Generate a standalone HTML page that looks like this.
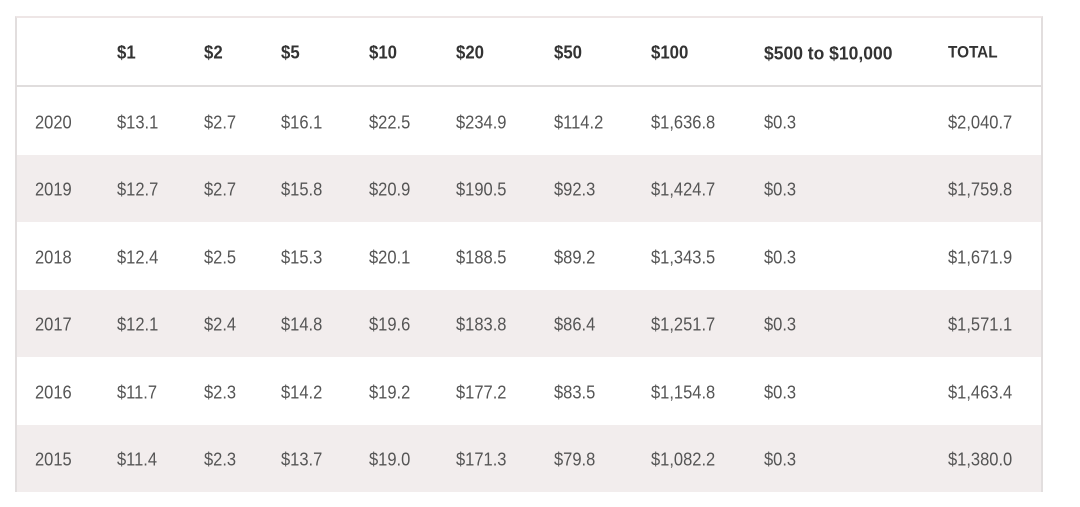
<!DOCTYPE html>
<html>
<head>
<meta charset="utf-8">
<style>
  html, body { margin:0; padding:0; background:#fff; }
  body { width:1080px; height:507px; position:relative; overflow:hidden; font-family:"Liberation Sans", "DejaVu Sans", sans-serif; }
  .box { position:absolute; left:15px; top:16px; width:1028px; height:476px; border-left:2px solid #e2dede; border-right:2px solid #e2dede; border-top:2px solid #eee6e6; box-sizing:border-box; }
  .hline { position:absolute; left:16px; width:1025px; top:85px; height:2px; background:#e0dddd; }
  .band { position:absolute; left:17px; width:1024px; background:#f2eded; }
  .t { position:absolute; font-size:16.5px; color:#555; line-height:20px; white-space:nowrap; transform:scaleY(1.1); transform-origin:0 50%; }
  .h { position:absolute; font-size:16.8px; font-weight:bold; color:#333; line-height:20px; white-space:nowrap; transform:scaleY(1.08); transform-origin:0 50%; }
</style>
</head>
<body>
<div class="band" style="top:155px;height:67px;"></div>
<div class="band" style="top:290px;height:67px;"></div>
<div class="band" style="top:425px;height:67px;"></div>
<div class="box"></div>
<div class="hline"></div>

<!-- header -->
<div class="h" style="left:117px;top:43px;">$1</div>
<div class="h" style="left:204px;top:43px;">$2</div>
<div class="h" style="left:281px;top:43px;">$5</div>
<div class="h" style="left:369px;top:43px;">$10</div>
<div class="h" style="left:456px;top:43px;">$20</div>
<div class="h" style="left:554px;top:43px;">$50</div>
<div class="h" style="left:651px;top:43px;">$100</div>
<div class="h" style="left:764px;top:43px;font-size:17.5px;">$500 to $10,000</div>
<div class="h" style="left:948px;top:43px;font-size:15.3px;">TOTAL</div>

<!-- 2020 -->
<div class="t" style="left:35px;top:113px;">2020</div>
<div class="t" style="left:117px;top:113px;">$13.1</div>
<div class="t" style="left:204px;top:113px;">$2.7</div>
<div class="t" style="left:281px;top:113px;">$16.1</div>
<div class="t" style="left:369px;top:113px;">$22.5</div>
<div class="t" style="left:456px;top:113px;">$234.9</div>
<div class="t" style="left:554px;top:113px;">$114.2</div>
<div class="t" style="left:651px;top:113px;">$1,636.8</div>
<div class="t" style="left:764px;top:113px;">$0.3</div>
<div class="t" style="left:948px;top:113px;">$2,040.7</div>

<!-- 2019 -->
<div class="t" style="left:35px;top:180px;">2019</div>
<div class="t" style="left:117px;top:180px;">$12.7</div>
<div class="t" style="left:204px;top:180px;">$2.7</div>
<div class="t" style="left:281px;top:180px;">$15.8</div>
<div class="t" style="left:369px;top:180px;">$20.9</div>
<div class="t" style="left:456px;top:180px;">$190.5</div>
<div class="t" style="left:554px;top:180px;">$92.3</div>
<div class="t" style="left:651px;top:180px;">$1,424.7</div>
<div class="t" style="left:764px;top:180px;">$0.3</div>
<div class="t" style="left:948px;top:180px;">$1,759.8</div>

<!-- 2018 -->
<div class="t" style="left:35px;top:248px;">2018</div>
<div class="t" style="left:117px;top:248px;">$12.4</div>
<div class="t" style="left:204px;top:248px;">$2.5</div>
<div class="t" style="left:281px;top:248px;">$15.3</div>
<div class="t" style="left:369px;top:248px;">$20.1</div>
<div class="t" style="left:456px;top:248px;">$188.5</div>
<div class="t" style="left:554px;top:248px;">$89.2</div>
<div class="t" style="left:651px;top:248px;">$1,343.5</div>
<div class="t" style="left:764px;top:248px;">$0.3</div>
<div class="t" style="left:948px;top:248px;">$1,671.9</div>

<!-- 2017 -->
<div class="t" style="left:35px;top:315px;">2017</div>
<div class="t" style="left:117px;top:315px;">$12.1</div>
<div class="t" style="left:204px;top:315px;">$2.4</div>
<div class="t" style="left:281px;top:315px;">$14.8</div>
<div class="t" style="left:369px;top:315px;">$19.6</div>
<div class="t" style="left:456px;top:315px;">$183.8</div>
<div class="t" style="left:554px;top:315px;">$86.4</div>
<div class="t" style="left:651px;top:315px;">$1,251.7</div>
<div class="t" style="left:764px;top:315px;">$0.3</div>
<div class="t" style="left:948px;top:315px;">$1,571.1</div>

<!-- 2016 -->
<div class="t" style="left:35px;top:383px;">2016</div>
<div class="t" style="left:117px;top:383px;">$11.7</div>
<div class="t" style="left:204px;top:383px;">$2.3</div>
<div class="t" style="left:281px;top:383px;">$14.2</div>
<div class="t" style="left:369px;top:383px;">$19.2</div>
<div class="t" style="left:456px;top:383px;">$177.2</div>
<div class="t" style="left:554px;top:383px;">$83.5</div>
<div class="t" style="left:651px;top:383px;">$1,154.8</div>
<div class="t" style="left:764px;top:383px;">$0.3</div>
<div class="t" style="left:948px;top:383px;">$1,463.4</div>

<!-- 2015 -->
<div class="t" style="left:35px;top:450px;">2015</div>
<div class="t" style="left:117px;top:450px;">$11.4</div>
<div class="t" style="left:204px;top:450px;">$2.3</div>
<div class="t" style="left:281px;top:450px;">$13.7</div>
<div class="t" style="left:369px;top:450px;">$19.0</div>
<div class="t" style="left:456px;top:450px;">$171.3</div>
<div class="t" style="left:554px;top:450px;">$79.8</div>
<div class="t" style="left:651px;top:450px;">$1,082.2</div>
<div class="t" style="left:764px;top:450px;">$0.3</div>
<div class="t" style="left:948px;top:450px;">$1,380.0</div>
</body>
</html>
